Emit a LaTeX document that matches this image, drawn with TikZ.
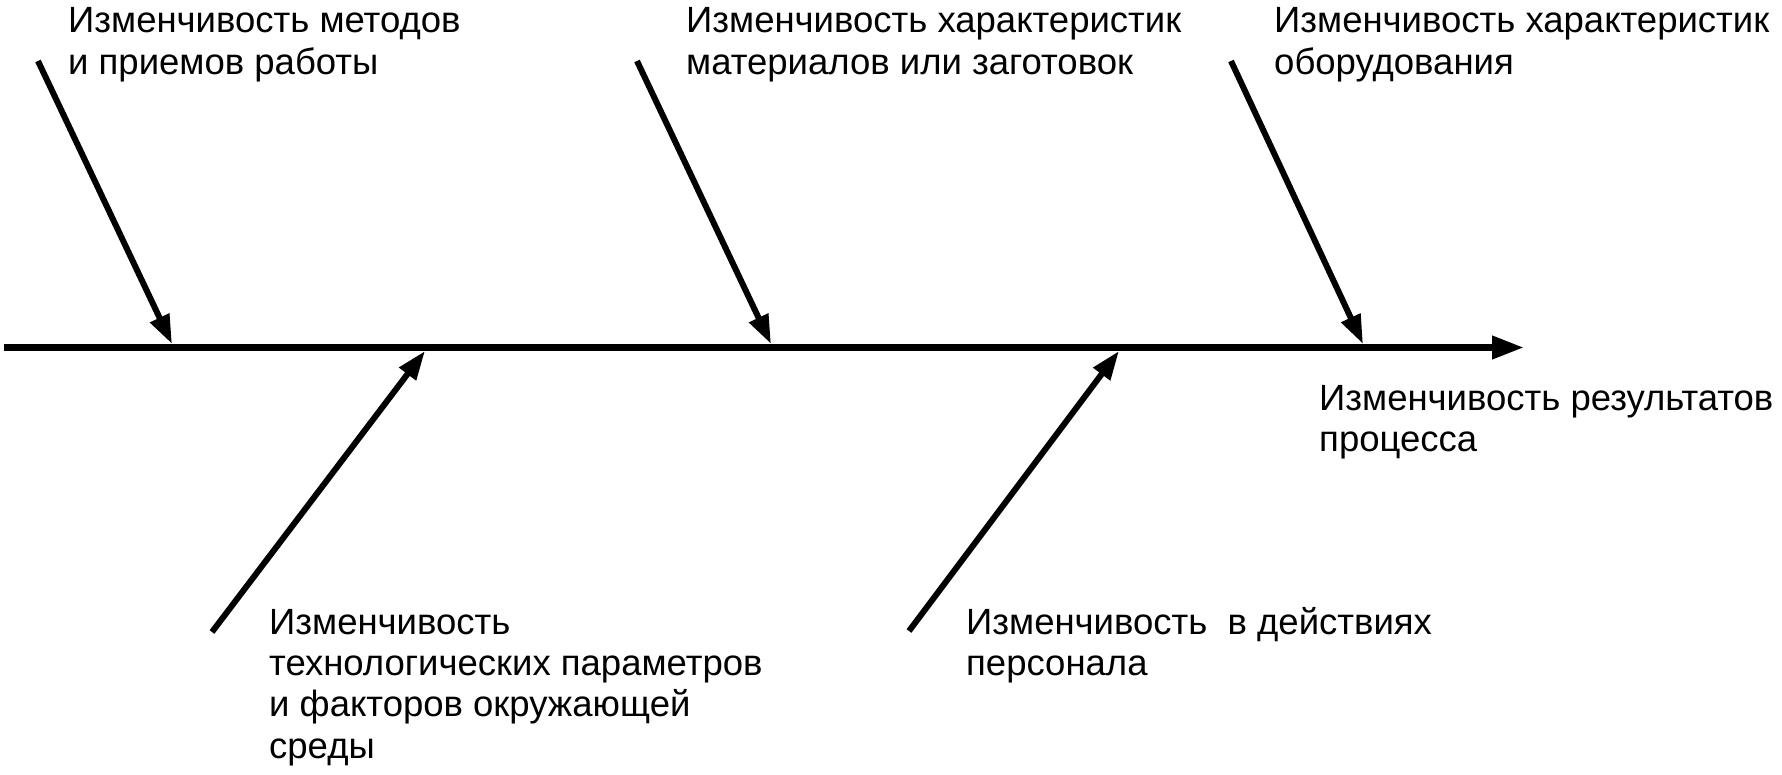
\documentclass[tikz,border=0pt]{standalone}
\usepackage{fontspec}
\setmainfont{Liberation Sans}
\usetikzlibrary{arrows.meta}
\begin{document}
\begin{tikzpicture}[x=1pt,y=-1pt,
  lbl/.style={anchor=base west, inner sep=0pt, align=left, font=\fontsize{36.5}{41.4}\selectfont},
  spine/.style={line width=7pt, -{Triangle[length=32pt,width=22pt]}},
  bone/.style={line width=6pt, -{Triangle[length=29pt,width=20pt]}}]
\useasboundingbox (0,0) rectangle (1782,775);
% main spine
\coordinate (s0) at (4,347.5);
\coordinate (s1) at (1524,347.5);
\draw[spine] (s0) -- (s1);
% branch ends on the spine
\coordinate (t1) at (172,344);
\coordinate (t2) at (425,351);
\coordinate (t3) at (771,344);
\coordinate (t4) at (1119,351);
\coordinate (t5) at (1363,344);
% branch free ends
\coordinate (b1) at (38,61);
\coordinate (b2) at (212,632);
\coordinate (b3) at (637,61);
\coordinate (b4) at (909,631);
\coordinate (b5) at (1231,61);
\draw[bone] (b1) -- (t1);
\draw[bone] (b2) -- (t2);
\draw[bone] (b3) -- (t3);
\draw[bone] (b4) -- (t4);
\draw[bone] (b5) -- (t5);
% labels (anchor = baseline of the last line)
\node[lbl] (l1) at (68,74.4) {Изменчивость методов\\и приемов работы};
\node[lbl] (l2) at (686,74.4) {Изменчивость характеристик\\материалов или заготовок};
\node[lbl] (l3) at (1274,74.4) {Изменчивость характеристик\\оборудования};
\node[lbl] (l4) at (1319,451.4) {Изменчивость результатов\\процесса};
\node[lbl] (l5) at (269,758.2) {Изменчивость\\технологических параметров\\и факторов окружающей\\среды};
\node[lbl] (l6) at (966,675.4) {Изменчивость\ \ в действиях\\персонала};
\end{tikzpicture}
\end{document}
